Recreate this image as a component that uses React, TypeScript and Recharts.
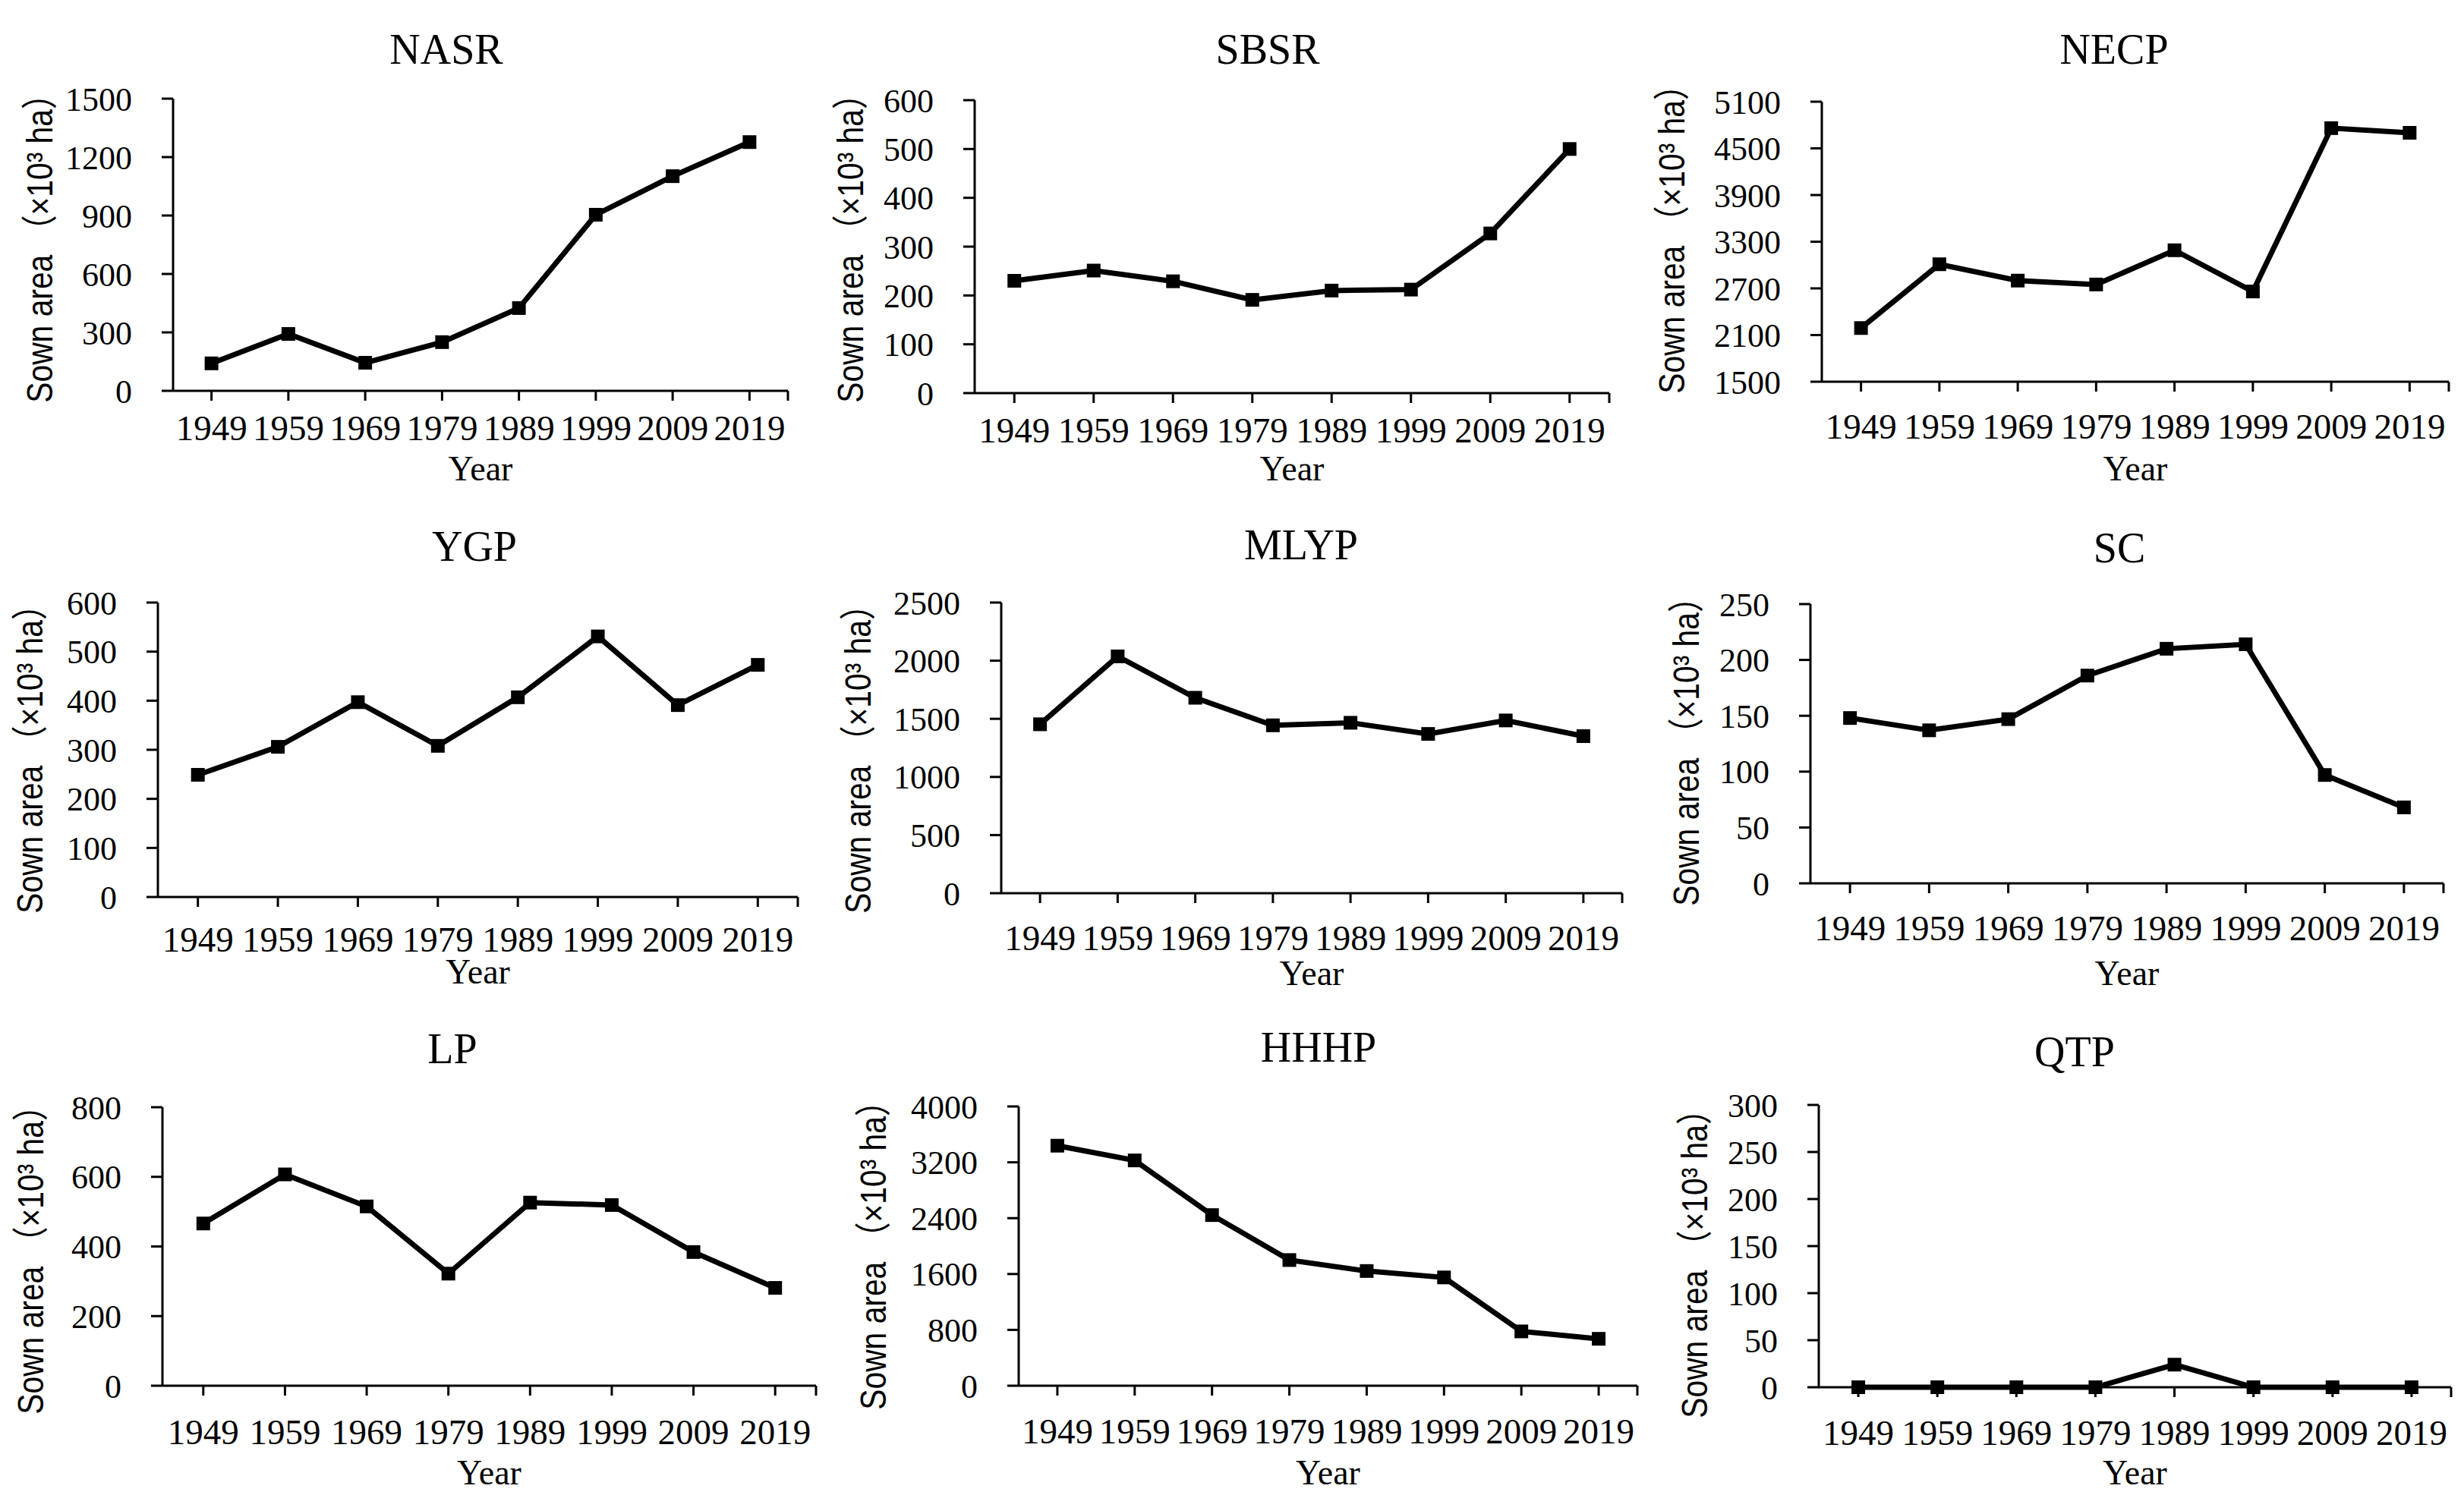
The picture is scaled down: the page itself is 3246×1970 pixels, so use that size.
import * as R from "recharts";
import { LineChart, Line, XAxis, YAxis } from "recharts";

const years = ["1949", "1959", "1969", "1979", "1989", "1999", "2009", "2019"];

// sown area, x10^3 ha
const nasr = [141, 292, 144, 250, 425, 904, 1102, 1277];
const sbsr = [230, 251, 229, 191, 210, 212, 327, 500];
const necp = [2190, 3010, 2800, 2750, 3190, 2660, 4760, 4700];
const ygp = [249, 306, 397, 308, 407, 531, 391, 473];
const mlyp = [1453, 2037, 1681, 1444, 1466, 1370, 1486, 1351];
const sc = [148, 137, 147, 186, 210, 214, 97, 68];
const lp = [466, 607, 515, 322, 526, 519, 384, 281];
const hhhp = [3438, 3227, 2444, 1800, 1643, 1551, 778, 672];
const qtp = [0, 0, 0, 0, 24, 0, 0, 0];

const nasrTicks = [0, 300, 600, 900, 1200, 1500];
const sbsrTicks = [0, 100, 200, 300, 400, 500, 600];
const necpTicks = [1500, 2100, 2700, 3300, 3900, 4500, 5100];
const ygpTicks = [0, 100, 200, 300, 400, 500, 600];
const mlypTicks = [0, 500, 1000, 1500, 2000, 2500];
const scTicks = [0, 50, 100, 150, 200, 250];
const lpTicks = [0, 200, 400, 600, 800];
const hhhpTicks = [0, 800, 1600, 2400, 3200, 4000];
const qtpTicks = [0, 50, 100, 150, 200, 250, 300];

const serif = "'Liberation Serif', 'Times New Roman', serif";
const sans = "'Liberation Sans', Arial, 'Noto Sans CJK SC', sans-serif";

interface PanelProps {
  title: string;
  values: number[];
  ticks: number[];
  left: number;
  top: number;
  bottom: number;
  right: number;
  titleX: number;
  titleY: number;
  yLabelX: number;
  yLabelY: number;
  yearY: number;
  labelGap: number;
}

const panels: PanelProps[] = [
  { title: "NASR", values: nasr, ticks: nasrTicks, left: 228, top: 130, bottom: 515, right: 1038, titleX: 588, titleY: 65, yLabelX: 48, yLabelY: 317, yearY: 617, labelGap: 19 },
  { title: "SBSR", values: sbsr, ticks: sbsrTicks, left: 1284, top: 132, bottom: 518, right: 2120, titleX: 1670, titleY: 65, yLabelX: 1116, yLabelY: 317, yearY: 617, labelGap: 19 },
  { title: "NECP", values: necp, ticks: necpTicks, left: 2400, top: 134, bottom: 503, right: 3226, titleX: 2785, titleY: 65, yLabelX: 2198, yLabelY: 305, yearY: 617, labelGap: 29 },
  { title: "YGP", values: ygp, ticks: ygpTicks, left: 208, top: 794, bottom: 1182, right: 1051, titleX: 625, titleY: 720, yLabelX: 35, yLabelY: 990, yearY: 1280, labelGap: 26 },
  { title: "MLYP", values: mlyp, ticks: mlypTicks, left: 1319, top: 794, bottom: 1177, right: 2137, titleX: 1714, titleY: 718, yLabelX: 1126, yLabelY: 990, yearY: 1282, labelGap: 29 },
  { title: "SC", values: sc, ticks: scTicks, left: 2385, top: 796, bottom: 1164, right: 3219, titleX: 2792, titleY: 722, yLabelX: 2217, yLabelY: 980, yearY: 1282, labelGap: 29 },
  { title: "LP", values: lp, ticks: lpTicks, left: 214, top: 1459, bottom: 1826, right: 1075, titleX: 596, titleY: 1382, yLabelX: 36, yLabelY: 1650, yearY: 1940, labelGap: 31 },
  { title: "HHHP", values: hhhp, ticks: hhhpTicks, left: 1342, top: 1458, bottom: 1826, right: 2157, titleX: 1737, titleY: 1380, yLabelX: 1146, yLabelY: 1644, yearY: 1940, labelGap: 30 },
  { title: "QTP", values: qtp, ticks: qtpTicks, left: 2396, top: 1456, bottom: 1828, right: 3229, titleX: 2733, titleY: 1386, yLabelX: 2228, yLabelY: 1655, yearY: 1940, labelGap: 30 },
];

const AXIS_W = 170;
const AXIS_H = 100;
const PAD = 40;
const TICK_X = 13;

const Square = (props: any) => {
  const { cx, cy, index } = props;
  if (cx == null || cy == null) return <g key={index} />;
  return <rect key={index} x={cx - 9} y={cy - 9} width={18} height={18} fill="#000" />;
};

// Excel draws one more tick mark at the right end of the category axis
const usePlot: any = (R as any).usePlotArea;
const EndTick = () => {
  const area = usePlot ? usePlot() : null;
  if (!area) return null;
  const x = area.x + area.width;
  const y = area.y + area.height;
  return <line x1={x} x2={x} y1={y} y2={y + TICK_X} stroke="#000" strokeWidth={3} />;
};

const axisStyle = { stroke: "#000", strokeWidth: 3 };
const xTickStyle = { fill: "#000", fontFamily: serif, fontSize: 47 };
const yTickStyle = { fill: "#000", fontFamily: serif, fontSize: 44 };

const Panel = ({ p }: { p: PanelProps }) => {
  const data = years.map((year, i) => ({ year, value: p.values[i] }));
  const plotW = p.right - p.left;
  const half = plotW / 16;
  const width = plotW + AXIS_W + PAD;
  const height = p.bottom - p.top + PAD + AXIS_H;
  const midX = (p.left + p.right) / 2;
  return (
    <>
      <div style={{ position: "absolute", left: p.left - AXIS_W, top: p.top - PAD }}>
        <LineChart
          width={width}
          height={height}
          data={data}
          margin={{ top: PAD, right: PAD, bottom: 0, left: 0 }}
        >
          <XAxis
            dataKey="year"
            interval={0}
            padding={{ left: half, right: half }}
            height={AXIS_H}
            tickSize={TICK_X}
            tickMargin={p.labelGap}
            axisLine={axisStyle}
            tickLine={axisStyle}
            tick={xTickStyle}
          />
          <YAxis
            width={AXIS_W}
            domain={[p.ticks[0], p.ticks[p.ticks.length - 1]]}
            ticks={p.ticks}
            interval={0}
            tickSize={15}
            tickMargin={39}
            axisLine={axisStyle}
            tickLine={axisStyle}
            tick={yTickStyle}
          />
          <Line
            type="linear"
            dataKey="value"
            stroke="#000"
            strokeWidth={7}
            dot={Square}
            activeDot={false}
            isAnimationActive={false}
          />
          <EndTick />
        </LineChart>
      </div>
      <div
        style={{
          position: "absolute",
          left: p.titleX,
          top: p.titleY,
          transform: "translate(-50%, -50%)",
          fontFamily: serif,
          fontSize: 56,
          whiteSpace: "nowrap",
        }}
      >
        {p.title}
      </div>
      <div
        style={{
          position: "absolute",
          left: p.yLabelX,
          top: p.yLabelY,
          transform: "translate(-50%, -50%) rotate(180deg) scaleY(0.85)",
          writingMode: "vertical-rl",
          textOrientation: "sideways",
          fontFamily: sans,
          fontSize: 48,
          whiteSpace: "nowrap",
        }}
      >
        Sown area （×10³ ha）
      </div>
      <div
        style={{
          position: "absolute",
          left: midX,
          top: p.yearY,
          transform: "translate(-50%, -50%)",
          fontFamily: serif,
          fontSize: 46,
          whiteSpace: "nowrap",
        }}
      >
        Year
      </div>
    </>
  );
};

export default function App() {
  return (
    <div
      style={{
        position: "absolute",
        left: 0,
        top: 0,
        width: 3246,
        height: 1970,
        background: "#fff",
        overflow: "hidden",
      }}
    >
      {panels.map((p) => (
        <Panel key={p.title} p={p} />
      ))}
    </div>
  );
}
